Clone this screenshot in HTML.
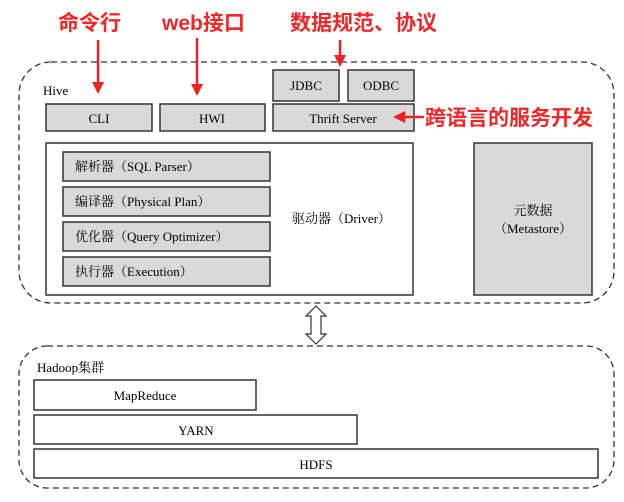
<!DOCTYPE html>
<html><head><meta charset="utf-8"><style>
body{margin:0;width:624px;height:497px;background:#fff;overflow:hidden}
svg text{font-family:"Liberation Serif","Noto Serif CJK SC",serif;font-size:13px;fill:#000}
.r{font-family:"Liberation Sans","Noto Sans CJK SC",sans-serif;font-weight:bold;font-size:21px;fill:#f0282a}
</style></head><body>
<svg width="624" height="497" xmlns="http://www.w3.org/2000/svg">
<defs><marker id="a" markerUnits="userSpaceOnUse" markerWidth="14" markerHeight="14" refX="10" refY="7" orient="auto"><path d="M0,1L12,7L0,13Z" fill="#ee2222"/></marker></defs>
<rect x="19" y="62" width="595" height="241" rx="32" fill="none" stroke="#333" stroke-width="1.3" stroke-dasharray="6,4"/>
<rect x="19" y="346" width="595" height="142" rx="28" fill="none" stroke="#333" stroke-width="1.3" stroke-dasharray="6,4"/>
<g stroke="#333" stroke-width="1.5" fill="#d9d9d9">
<rect x="46" y="104" width="106" height="27"/>
<rect x="160" y="104" width="105" height="27"/>
<rect x="273" y="104" width="141" height="27"/>
<rect x="273" y="70" width="66" height="31"/>
<rect x="348" y="70" width="66" height="31"/>
<rect x="46" y="143" width="367" height="152" fill="#fff"/>
<rect x="63" y="152" width="207" height="29"/>
<rect x="63" y="187" width="207" height="29"/>
<rect x="63" y="222" width="207" height="29"/>
<rect x="63" y="257" width="207" height="29"/>
<rect x="474" y="143" width="118" height="152"/>
<rect x="34" y="380" width="222" height="30" fill="#fff"/>
<rect x="34" y="415" width="323" height="29" fill="#fff"/>
<rect x="34" y="449" width="564" height="29" fill="#fff"/>
</g>
<path d="M316,306 l10,10 h-5 v18 h5 l-10,10 l-10,-10 h5 v-18 h-5 z" fill="#fff" stroke="#333" stroke-width="1.2"/>
<text x="43" y="95">Hive</text>
<text x="99" y="123" text-anchor="middle">CLI</text>
<text x="212" y="123" text-anchor="middle">HWI</text>
<text x="343" y="123" text-anchor="middle">Thrift Server</text>
<text x="306" y="90" text-anchor="middle">JDBC</text>
<text x="381" y="90" text-anchor="middle">ODBC</text>
<text x="75" y="171">解析器（SQL Parser）</text>
<text x="75" y="206">编译器（Physical Plan）</text>
<text x="75" y="241">优化器（Query Optimizer）</text>
<text x="75" y="276">执行器（Execution）</text>
<text x="292" y="223">驱动器（Driver）</text>
<text x="533" y="215" text-anchor="middle">元数据</text>
<text x="533" y="233" text-anchor="middle">（Metastore）</text>
<text x="37" y="372">Hadoop集群</text>
<text x="145" y="400" text-anchor="middle">MapReduce</text>
<text x="196" y="435" text-anchor="middle">YARN</text>
<text x="316" y="469" text-anchor="middle">HDFS</text>
<text class="r" x="58" y="30">命令行</text>
<text class="r" x="162" y="30">web接口</text>
<text class="r" x="290" y="30">数据规范、协议</text>
<text class="r" x="425" y="125">跨语言的服务开发</text>
<g stroke="#ee2222" stroke-width="2.5" marker-end="url(#a)">
<line x1="98" y1="40" x2="98" y2="92"/>
<line x1="197" y1="38" x2="197" y2="94"/>
<line x1="340" y1="40" x2="340" y2="65"/>
<line x1="424" y1="117" x2="395" y2="117"/>
</g>
</svg>
</body></html>
